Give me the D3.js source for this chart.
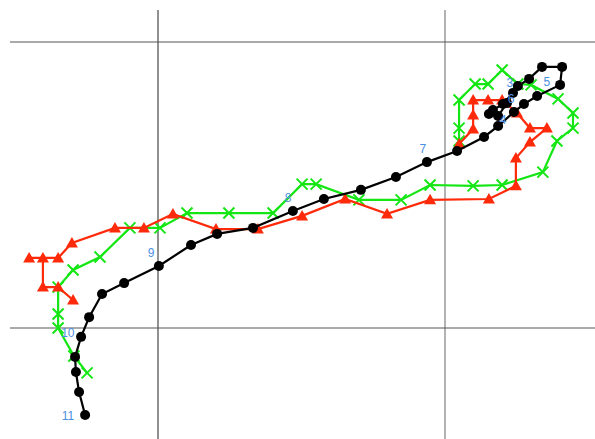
<!DOCTYPE html>
<html>
<head>
<meta charset="utf-8">
<script src="https://cdn.jsdelivr.net/npm/d3@7"></script>
<style>
  html, body { margin: 0; padding: 0; background: #fff; }
</style>
</head>
<body>
<div id="chart"></div>
<script>
// track positions as [lon, lat]
const bestTrack = [
  [142.37, 28.22], [142.02, 27.83], [141.67, 27.62], [141.53, 27.48], [141.85, 27.41],
  [142.16, 27.87], [142.54, 28.46], [142.93, 28.71], [143.38, 29.13], [144.08, 29.13],
  [144.01, 28.50], [143.21, 28.11], [142.75, 27.83], [142.40, 27.55], [141.85, 27.06],
  [141.36, 26.68], [140.42, 26.19], [139.37, 25.80], [138.29, 25.28], [137.07, 24.83],
  [135.78, 24.51], [134.70, 24.09], [133.31, 23.50], [132.06, 23.29], [131.15, 22.90],
  [130.03, 22.17], [128.82, 21.57], [128.05, 21.19], [127.60, 20.38], [127.32, 19.69],
  [127.11, 18.99], [127.14, 18.46], [127.25, 17.76], [127.46, 16.96]
];

const greenTrack = [
  [140.49, 26.54], [140.49, 26.99], [140.49, 27.97], [141.05, 28.53], [141.50, 28.53],
  [141.99, 29.02], [142.54, 28.53], [143.00, 28.50], [143.94, 28.01], [144.46, 27.52],
  [144.46, 26.99], [143.90, 26.54], [143.41, 25.45], [141.99, 25.00], [140.98, 24.97],
  [139.48, 25.00], [138.47, 24.48], [137.00, 24.48], [135.51, 25.03], [135.02, 25.03],
  [134.01, 24.02], [132.47, 24.02], [131.01, 24.02], [130.07, 23.50], [129.02, 23.50],
  [127.98, 22.48], [127.04, 22.03], [126.52, 21.43], [126.52, 20.49], [126.52, 20.00],
  [127.07, 19.02], [127.53, 18.43]
];

const redTrack = [
  [140.49, 26.43], [140.98, 26.96], [140.98, 27.45], [140.98, 27.97], [141.50, 27.97],
  [141.99, 27.97], [142.51, 27.52], [142.96, 26.99], [143.55, 26.99], [142.96, 26.50],
  [142.47, 25.94], [142.47, 24.97], [141.53, 24.51], [139.48, 24.48], [137.98, 23.99],
  [136.52, 24.51], [135.02, 23.92], [133.48, 23.46], [132.02, 23.46], [130.52, 23.99],
  [129.51, 23.50], [128.50, 23.50], [127.00, 22.97], [126.52, 22.45], [125.51, 22.45],
  [125.99, 22.45], [125.99, 21.43], [126.52, 21.43], [127.04, 20.98]
];

// day labels
const dayText = ["3", "4", "5", "6", "7", "8", "9", "10", "11"];
const dayPos = [
  [142.26, 28.58], [142.02, 27.27], [143.55, 28.60], [142.30, 28.00], [139.23, 26.26],
  [134.53, 24.55], [129.76, 22.62], [126.86, 19.83], [126.86, 16.92]
];

const gridLon = [130, 140];
const gridLat = [20, 30];

const width = 595, height = 439;

const x = d3.scaleLinear().domain([130, 140]).range([158, 445]);
const y = d3.scaleLinear().domain([20, 30]).range([328, 42]);

const svg = d3.select("#chart").append("svg")
  .attr("width", width)
  .attr("height", height)
  .attr("viewBox", [0, 0, width, height]);

// grid
svg.append("g")
  .selectAll("line")
  .data(gridLon)
  .join("line")
  .attr("x1", d => x(d)).attr("x2", d => x(d))
  .attr("y1", 10).attr("y2", height)
  .attr("stroke", (d, i) => i === 0 ? "#222" : "#666")
  .attr("stroke-width", 1);

svg.append("g")
  .selectAll("line")
  .data(gridLat)
  .join("line")
  .attr("x1", 10).attr("x2", width)
  .attr("y1", d => y(d)).attr("y2", d => y(d))
  .attr("stroke", "#555")
  .attr("stroke-width", 1);

const line = d3.line().x(d => x(d[0])).y(d => y(d[1]));

const green = "#14e614";
const red = "#ff2a0a";

// green track with x marks
svg.append("path")
  .datum(greenTrack)
  .attr("d", line)
  .attr("fill", "none")
  .attr("stroke", green)
  .attr("stroke-width", 2.2);

svg.append("g")
  .selectAll("path")
  .data(greenTrack)
  .join("path")
  .attr("transform", d => `translate(${x(d[0])},${y(d[1])})`)
  .attr("d", "M-5.5,-5.5L5.5,5.5M-5.5,5.5L5.5,-5.5")
  .attr("stroke", green)
  .attr("stroke-width", 2);

// red track with triangles
svg.append("path")
  .datum(redTrack)
  .attr("d", line)
  .attr("fill", "none")
  .attr("stroke", red)
  .attr("stroke-width", 2.2);

svg.append("g")
  .selectAll("path")
  .data(redTrack)
  .join("path")
  .attr("transform", d => `translate(${x(d[0])},${y(d[1])})`)
  .attr("d", "M0,-6L6,4.5L-6,4.5Z")
  .attr("fill", red);

// best track, black dots
svg.append("path")
  .datum(bestTrack)
  .attr("d", line)
  .attr("fill", "none")
  .attr("stroke", "#000")
  .attr("stroke-width", 2.2);

svg.append("g")
  .selectAll("circle")
  .data(bestTrack)
  .join("circle")
  .attr("cx", d => x(d[0]))
  .attr("cy", d => y(d[1]))
  .attr("r", 5)
  .attr("fill", "#000");

// labels
svg.append("g")
  .selectAll("text")
  .data(dayText)
  .join("text")
  .attr("x", (d, i) => x(dayPos[i][0]))
  .attr("y", (d, i) => y(dayPos[i][1]))
  .attr("dy", "0.35em")
  .attr("text-anchor", "middle")
  .attr("font-family", "Arial, 'Liberation Sans', sans-serif")
  .attr("font-size", 12)
  .attr("fill", "#4a90e2")
  .text(d => d);
</script>
</body>
</html>
